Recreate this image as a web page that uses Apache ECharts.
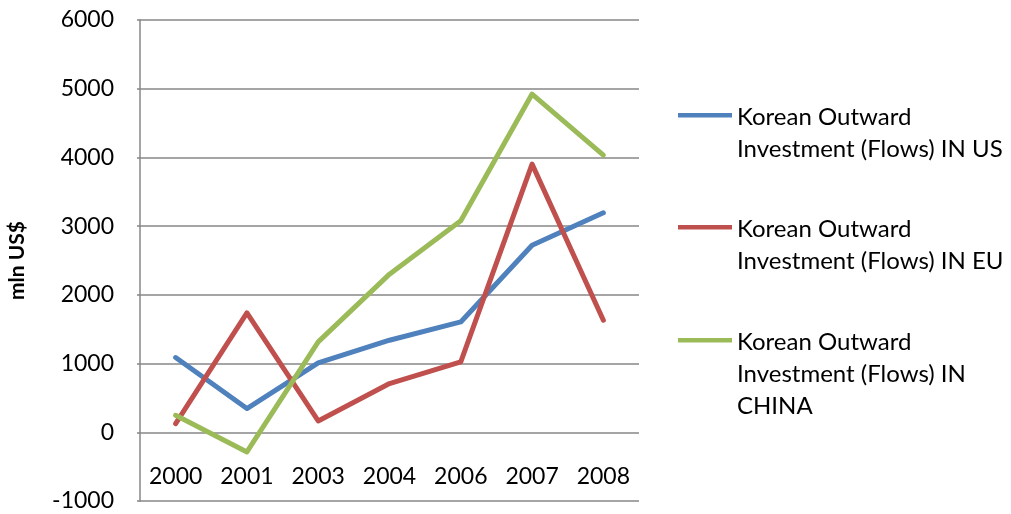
<!DOCTYPE html>
<html>
<head>
<meta charset="utf-8">
<script src="https://cdn.jsdelivr.net/npm/echarts@6/dist/echarts.min.js"></script>
<style>
html,body{margin:0;padding:0;background:#fff;}
#c{width:1011px;height:514px;}
</style>
</head>
<body>
<div id="c"></div>
<script>
const categories = ['2000','2001','2003','2004','2006','2007','2008'];
const usValues = [1088, 345, 1009, 1340, 1606, 2723, 3194];
const euValues = [126, 1737, 165, 709, 1024, 3903, 1631];
const chinaValues = [248, -286, 1315, 2301, 3078, 4922, 4034];
const seriesNames = [
  'Korean Outward Investment (Flows) IN US',
  'Korean Outward Investment (Flows) IN EU',
  'Korean Outward Investment (Flows) IN CHINA'
];
const legendLabels = [
  'Korean Outward\nInvestment (Flows) IN US',
  'Korean Outward\nInvestment (Flows) IN EU',
  'Korean Outward\nInvestment (Flows) IN\nCHINA'
];
const colors = ['#4F81BD', '#C0504D', '#9BBB59'];

const FONT = 'Lato';
const gridColor = '#878787';
const LH = 32;

// legend icon: a line at the first text row, inside a box as tall as the text block
function iconPath(h) {
  return 'path://M0,0L0.01,0L0,0.01Z' +
    'M0,12L54,12L54,16.5L0,16.5Z' +
    'M54,' + h + 'L53.99,' + h + 'L54,' + (h - 0.01) + 'Z';
}

function mkLegend(i, top, lines) {
  const h = lines * LH;
  return {
    orient: 'vertical',
    left: 678,
    top: top,
    padding: 0,
    icon: iconPath(h),
    itemWidth: 54,
    itemHeight: h,
    symbolKeepAspect: false,
    itemStyle: {borderWidth: 0},
    data: [seriesNames[i]],
    formatter: function () { return legendLabels[i]; },
    textStyle: {fontFamily: FONT, fontSize: 24, color: '#000', lineHeight: LH},
    selectedMode: false
  };
}

const chart = echarts.init(document.getElementById('c'), null, {renderer: 'canvas'});
chart.setOption({
  animation: false,
  backgroundColor: '#fff',
  color: colors,
  grid: {left: 140, right: 372, top: 20, bottom: 13, containLabel: false, outerBoundsMode: 'none'},
  legend: [mkLegend(0, 101, 2), mkLegend(1, 213, 2), mkLegend(2, 326, 3)],
  xAxis: {
    type: 'category',
    data: categories,
    boundaryGap: true,
    axisLine: {show: false, onZero: false},
    axisTick: {show: false},
    axisLabel: {fontFamily: FONT, fontSize: 23, color: '#000', inside: true, margin: 13},
    splitLine: {show: false}
  },
  yAxis: {
    type: 'value',
    min: -1000, max: 6000, interval: 1000,
    name: 'mln US$',
    nameLocation: 'middle',
    nameGap: 112,
    nameTextStyle: {fontFamily: FONT, fontSize: 21, fontWeight: 'bold', color: '#000'},
    axisLine: {show: true, lineStyle: {color: gridColor, width: 1.5}},
    axisTick: {show: true, length: 3, lineStyle: {color: gridColor, width: 1.5}},
    axisLabel: {fontFamily: FONT, fontSize: 23, color: '#000', margin: 26,
      formatter: function (v) { return String(v); }},
    splitLine: {show: true, lineStyle: {color: gridColor, width: 1.5}}
  },
  series: [
    {name: seriesNames[0], type: 'line', data: usValues},
    {name: seriesNames[1], type: 'line', data: euValues},
    {name: seriesNames[2], type: 'line', data: chinaValues}
  ].map(function (s, i) {
    s.showSymbol = false;
    s.symbol = 'none';
    s.lineStyle = {width: 5, color: colors[i], cap: 'round', join: 'round'};
    s.itemStyle = {color: colors[i]};
    return s;
  })
});
</script>
</body>
</html>
